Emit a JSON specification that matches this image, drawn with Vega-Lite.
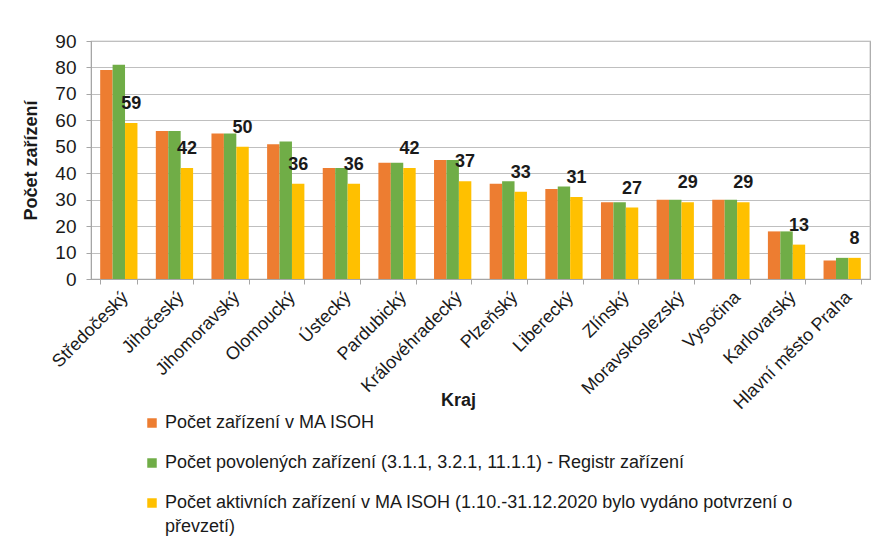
{
  "$schema": "https://vega.github.io/schema/vega-lite/v6.json",
  "autosize": {"type": "none"},
  "width": 779,
  "height": 238,
  "padding": {"left": 91, "top": 41, "right": 4, "bottom": 276},
  "background": "white",
  "config": {
    "font": "Liberation Sans",
    "view": {"stroke": "#a6a6a6", "strokeWidth": 1.2},
    "style": {"guide-label": {"lineHeight": 24}},
    "axis": {
      "labelFont": "Liberation Sans",
      "titleFont": "Liberation Sans",
      "labelColor": "#1a1a1a",
      "titleColor": "#1a1a1a",
      "domainColor": "#a6a6a6",
      "tickColor": "#a6a6a6",
      "gridColor": "#bfbfbf"
    }
  },
  "data": {
    "values": [
      {"kraj": "Středočeský", "serie": "Počet zařízení v MA ISOH", "hodnota": 79},
      {"kraj": "Středočeský", "serie": "Počet povolených zařízení (3.1.1, 3.2.1, 11.1.1) - Registr zařízení", "hodnota": 81},
      {"kraj": "Středočeský", "serie": "Počet aktivních zařízení  v MA ISOH (1.10.-31.12.2020 bylo vydáno potvrzení o převzetí)", "hodnota": 59},
      {"kraj": "Jihočeský", "serie": "Počet zařízení v MA ISOH", "hodnota": 56},
      {"kraj": "Jihočeský", "serie": "Počet povolených zařízení (3.1.1, 3.2.1, 11.1.1) - Registr zařízení", "hodnota": 56},
      {"kraj": "Jihočeský", "serie": "Počet aktivních zařízení  v MA ISOH (1.10.-31.12.2020 bylo vydáno potvrzení o převzetí)", "hodnota": 42},
      {"kraj": "Jihomoravský", "serie": "Počet zařízení v MA ISOH", "hodnota": 55},
      {"kraj": "Jihomoravský", "serie": "Počet povolených zařízení (3.1.1, 3.2.1, 11.1.1) - Registr zařízení", "hodnota": 55},
      {"kraj": "Jihomoravský", "serie": "Počet aktivních zařízení  v MA ISOH (1.10.-31.12.2020 bylo vydáno potvrzení o převzetí)", "hodnota": 50},
      {"kraj": "Olomoucký", "serie": "Počet zařízení v MA ISOH", "hodnota": 51},
      {"kraj": "Olomoucký", "serie": "Počet povolených zařízení (3.1.1, 3.2.1, 11.1.1) - Registr zařízení", "hodnota": 52},
      {"kraj": "Olomoucký", "serie": "Počet aktivních zařízení  v MA ISOH (1.10.-31.12.2020 bylo vydáno potvrzení o převzetí)", "hodnota": 36},
      {"kraj": "Ústecký", "serie": "Počet zařízení v MA ISOH", "hodnota": 42},
      {"kraj": "Ústecký", "serie": "Počet povolených zařízení (3.1.1, 3.2.1, 11.1.1) - Registr zařízení", "hodnota": 42},
      {"kraj": "Ústecký", "serie": "Počet aktivních zařízení  v MA ISOH (1.10.-31.12.2020 bylo vydáno potvrzení o převzetí)", "hodnota": 36},
      {"kraj": "Pardubický", "serie": "Počet zařízení v MA ISOH", "hodnota": 44},
      {"kraj": "Pardubický", "serie": "Počet povolených zařízení (3.1.1, 3.2.1, 11.1.1) - Registr zařízení", "hodnota": 44},
      {"kraj": "Pardubický", "serie": "Počet aktivních zařízení  v MA ISOH (1.10.-31.12.2020 bylo vydáno potvrzení o převzetí)", "hodnota": 42},
      {"kraj": "Královéhradecký", "serie": "Počet zařízení v MA ISOH", "hodnota": 45},
      {"kraj": "Královéhradecký", "serie": "Počet povolených zařízení (3.1.1, 3.2.1, 11.1.1) - Registr zařízení", "hodnota": 45},
      {"kraj": "Královéhradecký", "serie": "Počet aktivních zařízení  v MA ISOH (1.10.-31.12.2020 bylo vydáno potvrzení o převzetí)", "hodnota": 37},
      {"kraj": "Plzeňský", "serie": "Počet zařízení v MA ISOH", "hodnota": 36},
      {"kraj": "Plzeňský", "serie": "Počet povolených zařízení (3.1.1, 3.2.1, 11.1.1) - Registr zařízení", "hodnota": 37},
      {"kraj": "Plzeňský", "serie": "Počet aktivních zařízení  v MA ISOH (1.10.-31.12.2020 bylo vydáno potvrzení o převzetí)", "hodnota": 33},
      {"kraj": "Liberecký", "serie": "Počet zařízení v MA ISOH", "hodnota": 34},
      {"kraj": "Liberecký", "serie": "Počet povolených zařízení (3.1.1, 3.2.1, 11.1.1) - Registr zařízení", "hodnota": 35},
      {"kraj": "Liberecký", "serie": "Počet aktivních zařízení  v MA ISOH (1.10.-31.12.2020 bylo vydáno potvrzení o převzetí)", "hodnota": 31},
      {"kraj": "Zlínský", "serie": "Počet zařízení v MA ISOH", "hodnota": 29},
      {"kraj": "Zlínský", "serie": "Počet povolených zařízení (3.1.1, 3.2.1, 11.1.1) - Registr zařízení", "hodnota": 29},
      {"kraj": "Zlínský", "serie": "Počet aktivních zařízení  v MA ISOH (1.10.-31.12.2020 bylo vydáno potvrzení o převzetí)", "hodnota": 27},
      {"kraj": "Moravskoslezský", "serie": "Počet zařízení v MA ISOH", "hodnota": 30},
      {"kraj": "Moravskoslezský", "serie": "Počet povolených zařízení (3.1.1, 3.2.1, 11.1.1) - Registr zařízení", "hodnota": 30},
      {"kraj": "Moravskoslezský", "serie": "Počet aktivních zařízení  v MA ISOH (1.10.-31.12.2020 bylo vydáno potvrzení o převzetí)", "hodnota": 29},
      {"kraj": "Vysočina", "serie": "Počet zařízení v MA ISOH", "hodnota": 30},
      {"kraj": "Vysočina", "serie": "Počet povolených zařízení (3.1.1, 3.2.1, 11.1.1) - Registr zařízení", "hodnota": 30},
      {"kraj": "Vysočina", "serie": "Počet aktivních zařízení  v MA ISOH (1.10.-31.12.2020 bylo vydáno potvrzení o převzetí)", "hodnota": 29},
      {"kraj": "Karlovarský", "serie": "Počet zařízení v MA ISOH", "hodnota": 18},
      {"kraj": "Karlovarský", "serie": "Počet povolených zařízení (3.1.1, 3.2.1, 11.1.1) - Registr zařízení", "hodnota": 18},
      {"kraj": "Karlovarský", "serie": "Počet aktivních zařízení  v MA ISOH (1.10.-31.12.2020 bylo vydáno potvrzení o převzetí)", "hodnota": 13},
      {"kraj": "Hlavní město Praha", "serie": "Počet zařízení v MA ISOH", "hodnota": 7},
      {"kraj": "Hlavní město Praha", "serie": "Počet povolených zařízení (3.1.1, 3.2.1, 11.1.1) - Registr zařízení", "hodnota": 8},
      {"kraj": "Hlavní město Praha", "serie": "Počet aktivních zařízení  v MA ISOH (1.10.-31.12.2020 bylo vydáno potvrzení o převzetí)", "hodnota": 8}
    ]
  },
  "encoding": {
    "x": {
      "field": "kraj",
      "type": "nominal",
      "sort": null,
      "scale": {"paddingInner": 0.33, "paddingOuter": 0.165},
      "axis": {
        "title": "Kraj",
        "titleFontSize": 18,
        "titleFontWeight": "bold",
        "titleX": 367,
        "titleY": 121,
        "titleBaseline": "middle",
        "titleAlign": "center",
        "labelAngle": -45,
        "labelAlign": "right",
        "labelBaseline": "top",
        "labelFontSize": 18,
        "labelPadding": 4,
        "tickBand": "extent",
        "tickSize": 5,
        "labelLimit": 300
      }
    },
    "y": {
      "field": "hodnota",
      "type": "quantitative",
      "scale": {"domain": [0, 90], "nice": false},
      "axis": {
        "title": "Počet zařízení",
        "titleFontSize": 18,
        "titleFontWeight": "bold",
        "titlePadding": 14,
        "values": [0, 10, 20, 30, 40, 50, 60, 70, 80, 90],
        "labelFontSize": 19,
        "labelPadding": 10,
        "tickSize": 5,
        "grid": true
      }
    },
    "xOffset": {
      "field": "serie",
      "type": "nominal",
      "sort": null,
      "scale": {"paddingInner": 0, "paddingOuter": 0}
    }
  },
  "layer": [
    {
      "mark": {"type": "bar"},
      "encoding": {
        "color": {
          "field": "serie",
          "type": "nominal",
          "sort": null,
          "scale": {
            "domain": [
              "Počet zařízení v MA ISOH",
              "Počet povolených zařízení (3.1.1, 3.2.1, 11.1.1) - Registr zařízení",
              "Počet aktivních zařízení  v MA ISOH (1.10.-31.12.2020 bylo vydáno potvrzení o převzetí)"
            ],
            "range": ["#ED7D31", "#70AD47", "#FFC000"]
          },
          "legend": {
            "title": null,
            "orient": "none",
            "legendX": 52,
            "legendY": 373,
            "direction": "vertical",
            "symbolType": "square",
            "symbolSize": 90,
            "symbolStrokeWidth": 0,
            "labelFont": "Liberation Sans",
            "labelFontSize": 18,
            "labelColor": "#1a1a1a",
            "labelLimit": 800,
            "labelOffset": 4,
            "rowPadding": 22,
            "labelExpr": "indexof(datum.label, 'převzetí') > 0 ? ['Počet aktivních zařízení  v MA ISOH (1.10.-31.12.2020 bylo vydáno potvrzení o', 'převzetí)'] : datum.label"
          }
        }
      }
    },
    {
      "transform": [{"filter": "indexof(datum.serie, 'aktivních') >= 0"}],
      "mark": {
        "type": "text",
        "font": "Liberation Sans",
        "fontSize": 18,
        "fontWeight": "bold",
        "color": "#1a1a1a",
        "baseline": "middle",
        "align": "center",
        "dy": -19
      },
      "encoding": {
        "text": {"field": "hodnota", "type": "quantitative"}
      }
    }
  ]
}
